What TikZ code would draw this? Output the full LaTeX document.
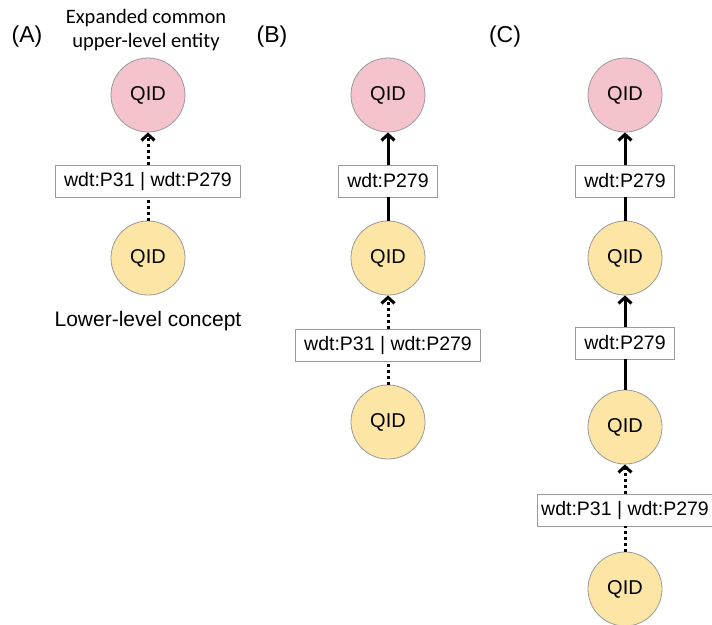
\documentclass[tikz,border=0pt]{standalone}
\usepackage{xcolor}
\usepackage{fontspec}
\setmainfont{Liberation Sans}
\newfontfamily\notefont{Carlito}
\usepackage{tikz}
\usetikzlibrary{arrows.meta}
\definecolor{qidpink}{HTML}{F4C3CC}
\definecolor{qidyellow}{HTML}{FCE5A5}
\definecolor{rim}{HTML}{9A9A9A}

\begin{document}
\begin{tikzpicture}[x=1pt, y=-1pt, line width = 3pt, font=\fontsize{19.5}{22}\selectfont]
	\tikzstyle{qid} =[circle, draw=rim, line width=0.8pt, minimum size=74pt, inner sep=0, font=\fontsize{20}{22}\selectfont]
	\tikzstyle{upper} =[qid, fill=qidpink]
	\tikzstyle{lower} =[qid, fill=qidyellow]
	\tikzstyle{prop} =[rectangle, draw=rim, fill=white, line width=0.8pt, minimum height=32pt, inner xsep=9pt]
	\tikzstyle{tag} =[font=\fontsize{23}{26}\selectfont]
	\tikzstyle{weak} =[dash pattern=on 3pt off 3pt]
	\tikzstyle{tip} =[-{Straight Barb[length=6pt,width=13pt]}]
	\useasboundingbox (0,0) rectangle (712,624);
	% (A)
	\node[tag] (tagA) at (27,37) {(A)};
	\node[align=center, font=\notefont\fontsize{20.5}{24}\selectfont] (upA) at (146,30) {Expanded common\\upper-level entity};
	\node[upper] (pA) at (148,95) {QID};
	\node[prop] (bA) at (148,181) {wdt:P31 | wdt:P279};
	\node[lower] (yA) at (148,258) {QID};
	\node[font=\fontsize{21}{24}\selectfont] (lowA) at (148,321) {Lower-level concept};
	\draw[weak] (yA) -- (bA);
	\draw[weak, tip] (bA) -- (pA);
	% (B)
	\node[tag] (tagB) at (272,37) {(B)};
	\node[upper] (pB) at (388,95) {QID};
	\node[prop] (bB1) at (388,181) {wdt:P279};
	\node[lower] (yB1) at (388,258) {QID};
	\node[prop] (bB2) at (388,345) {wdt:P31 | wdt:P279};
	\node[lower] (yB2) at (388,422) {QID};
	\draw (yB1) -- (bB1);
	\draw[tip] (bB1) -- (pB);
	\draw[weak] (yB2) -- (bB2);
	\draw[weak, tip] (bB2) -- (yB1);
	% (C)
	\node[tag] (tagC) at (505,37) {(C)};
	\node[upper] (pC) at (625,95) {QID};
	\node[prop] (bC1) at (625,181) {wdt:P279};
	\node[lower] (yC1) at (625,258) {QID};
	\node[prop] (bC2) at (625,343) {wdt:P279};
	\node[lower] (yC2) at (625,427) {QID};
	\node[prop, inner xsep=4pt] (bC3) at (625,510) {wdt:P31 | wdt:P279};
	\node[lower] (yC3) at (625,589) {QID};
	\foreach \a/\b in {yC1/bC1, yC2/bC2}
		{\draw (\a) -- (\b); }
	\foreach \a/\b in {bC1/pC, bC2/yC1}
		{\draw[tip] (\a) -- (\b); }
	\draw[weak] (yC3) -- (bC3);
	\draw[weak, tip] (bC3) -- (yC2);
\end{tikzpicture}
\end{document}
